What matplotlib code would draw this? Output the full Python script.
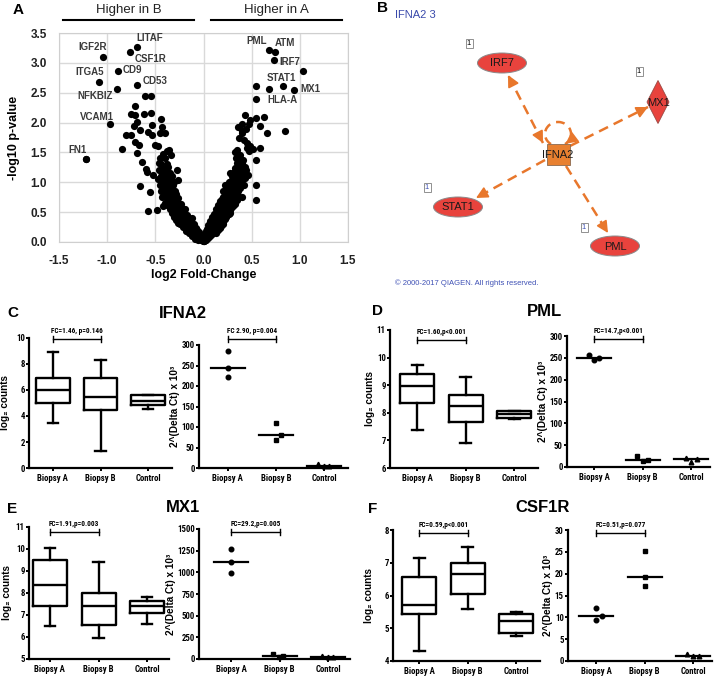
import matplotlib
matplotlib.use('Agg')

import matplotlib.pyplot as plt
from matplotlib import font_manager
from matplotlib.font_manager import FontProperties
from matplotlib.patches import Ellipse, Polygon, Rectangle, Arc
import numpy as np

W, H = 720, 677

plt.rcParams['font.family'] = ['Liberation Sans', 'DejaVu Sans']


def narrow_bold():
    # a condensed bold face for the Prism style panels, if one is installed
    wanted = ['Liberation Sans Narrow', 'Roboto Condensed', 'Open Sans Condensed']
    for name in wanted:
        for f in font_manager.fontManager.ttflist:
            if f.name == name and f.weight in ('bold', 700) and f.style == 'normal':
                return f.fname
    for f in font_manager.fontManager.ttflist:
        if f.name == 'DejaVu Sans' and f.stretch == 'condensed' and f.weight in ('bold', 700):
            return f.fname
    return None


NARROW_FILE = narrow_bold()


def nfont(size):
    if NARROW_FILE:
        return FontProperties(fname=NARROW_FILE, size=size)
    return FontProperties(family='Liberation Sans', weight='bold', size=size * 0.85)


# ---------------- panel A: volcano data (log2 fold change, -log10 p)
# higher in B (negative fold change)
points_b = [
    (-0.01, 0.02), (-0.03, 0.03), (0.0, 0.01), (-0.02, 0.06), (-0.05, 0.05), (-0.04, 0.10),
    (-0.07, 0.08), (-0.06, 0.14), (-0.09, 0.12), (-0.08, 0.18), (-0.11, 0.16), (-0.10, 0.22),
    (-0.13, 0.20), (-0.12, 0.27), (-0.15, 0.25), (-0.17, 0.22), (-0.14, 0.32), (-0.18, 0.30),
    (-0.20, 0.28), (-0.16, 0.37), (-0.19, 0.35), (-0.22, 0.33), (-0.18, 0.42), (-0.21, 0.40),
    (-0.24, 0.38), (-0.20, 0.47), (-0.23, 0.45), (-0.26, 0.43), (-0.22, 0.52), (-0.25, 0.50),
    (-0.28, 0.48), (-0.19, 0.55), (-0.24, 0.57), (-0.27, 0.55), (-0.30, 0.53), (-0.26, 0.62),
    (-0.29, 0.60), (-0.32, 0.58), (-0.23, 0.63), (-0.28, 0.67), (-0.31, 0.65), (-0.34, 0.63),
    (-0.30, 0.72), (-0.33, 0.70), (-0.36, 0.68), (-0.26, 0.74), (-0.32, 0.77), (-0.35, 0.75),
    (-0.38, 0.73), (-0.34, 0.82), (-0.37, 0.80), (-0.40, 0.78), (-0.30, 0.85), (-0.36, 0.87),
    (-0.39, 0.85), (-0.33, 0.90), (-0.38, 0.92), (-0.41, 0.90), (-0.35, 0.96), (-0.40, 0.98),
    (-0.37, 1.02), (-0.42, 1.04), (-0.34, 1.05), (-0.39, 1.08), (-0.36, 1.12), (-0.41, 1.14),
    (-0.38, 1.18), (-0.33, 1.10), (-0.43, 1.00), (-0.35, 1.15), (-0.42, 0.60), (-0.40, 0.65),
    (-0.29, 0.37), (-0.26, 0.32), (-0.31, 0.42), (-0.12, 0.40), (-0.10, 0.30), (-0.07, 0.20),
    (-0.44, 1.10), (-0.46, 1.20), (-0.41, 1.22), (-0.37, 1.25), (-0.44, 0.85), (-0.43, 0.75),
    (-0.38, 0.62), (-0.35, 0.55), (-0.33, 0.48), (-0.30, 0.45), (-0.27, 0.40), (-0.24, 0.30),
    (-0.21, 0.25), (-0.18, 0.18), (-0.15, 0.15), (-0.12, 0.10), (-0.09, 0.05), (-0.06, 0.03),
    (-0.32, 0.95), (-0.29, 0.80), (-0.27, 0.68), (-0.25, 0.60), (-0.22, 0.57), (-0.20, 0.50),
    (-0.17, 0.45), (-0.15, 0.40), (-0.13, 0.35), (-0.11, 0.26), (-0.08, 0.24), (-0.05, 0.17),
    (-0.03, 0.12), (-0.36, 1.00), (-0.39, 1.00), (-0.31, 1.00), (-0.45, 1.40), (-0.42, 1.48),
    (-0.38, 1.52),
    (-1.22, 1.39), (-0.85, 1.55), (-0.80, 1.79), (-0.75, 1.79), (-0.71, 1.68), (-0.67, 1.62),
    (-0.69, 1.49), (-0.64, 1.34), (-0.60, 1.23), (-0.59, 1.18), (-0.53, 1.79), (-0.50, 1.62),
    (-0.45, 1.82), (-0.40, 1.82), (-0.36, 1.54), (-0.34, 1.46), (-0.40, 1.40), (-0.46, 1.32),
    (-0.52, 1.12), (-0.66, 0.94), (-0.56, 0.84), (-0.58, 0.52), (-0.48, 0.54), (-0.28, 1.20),
    (-0.26, 1.04), (-0.47, 1.60), (-0.44, 1.30), (-0.38, 1.30), (-0.43, 1.15), (-0.47, 1.05),
    (-0.45, 0.95), (-0.61, 2.45), (-0.55, 2.45), (-0.71, 2.28), (-0.75, 2.14), (-0.71, 2.12),
    (-0.62, 2.14), (-0.55, 2.16), (-0.69, 2.01), (-0.53, 1.96), (-0.44, 2.06), (-0.43, 1.93),
    (-0.72, 1.94), (-0.66, 1.88), (-0.58, 1.85),
]
# higher in A (positive fold change)
points_a = [
    (0.01, 0.02), (0.03, 0.04), (0.02, 0.08), (0.05, 0.07), (0.04, 0.12), (0.07, 0.10),
    (0.06, 0.16), (0.09, 0.14), (0.03, 0.18), (0.08, 0.21), (0.11, 0.19), (0.06, 0.25),
    (0.10, 0.27), (0.13, 0.24), (0.15, 0.20), (0.08, 0.31), (0.12, 0.33), (0.15, 0.30),
    (0.18, 0.27), (0.10, 0.38), (0.14, 0.39), (0.17, 0.36), (0.20, 0.33), (0.12, 0.44),
    (0.16, 0.45), (0.19, 0.42), (0.22, 0.39), (0.14, 0.50), (0.18, 0.51), (0.21, 0.48),
    (0.24, 0.45), (0.27, 0.48), (0.16, 0.56), (0.20, 0.57), (0.23, 0.54), (0.26, 0.52),
    (0.15, 0.62), (0.19, 0.63), (0.22, 0.60), (0.25, 0.58), (0.29, 0.57), (0.17, 0.68),
    (0.21, 0.69), (0.24, 0.66), (0.28, 0.64), (0.32, 0.66), (0.20, 0.75), (0.23, 0.76),
    (0.27, 0.72), (0.30, 0.70), (0.35, 0.70), (0.22, 0.82), (0.26, 0.83), (0.29, 0.79),
    (0.33, 0.76), (0.24, 0.88), (0.28, 0.90), (0.31, 0.86), (0.35, 0.82), (0.22, 0.95),
    (0.27, 0.96), (0.30, 0.93), (0.34, 0.90), (0.29, 1.02), (0.33, 1.00), (0.37, 0.97),
    (0.31, 1.08), (0.35, 1.06), (0.40, 1.04), (0.28, 1.15), (0.34, 1.13), (0.38, 1.11),
    (0.43, 1.08), (0.36, 1.19), (0.41, 1.17), (0.46, 1.12), (0.33, 1.24), (0.39, 1.26),
    (0.35, 1.32), (0.40, 1.32), (0.43, 1.26), (0.34, 1.40), (0.38, 1.45), (0.33, 1.50),
    (0.25, 0.85), (0.27, 0.78), (0.30, 0.75), (0.32, 0.83), (0.36, 0.86), (0.33, 0.95),
    (0.36, 1.02), (0.39, 1.08), (0.42, 1.14), (0.37, 1.15), (0.32, 1.18), (0.30, 1.10),
    (0.26, 1.00), (0.25, 0.92), (0.20, 0.85), (0.19, 0.72), (0.17, 0.60), (0.13, 0.55),
    (0.11, 0.47), (0.09, 0.42), (0.07, 0.35), (0.05, 0.28), (0.04, 0.22), (0.02, 0.14),
    (0.00, 0.05), (0.13, 0.15), (0.17, 0.23), (0.20, 0.30), (0.23, 0.42), (0.26, 0.47),
    (0.28, 0.53), (0.31, 0.60), (0.33, 0.63), (0.37, 0.75), (0.42, 0.95), (0.44, 1.20),
    (0.41, 1.38), (0.37, 1.36),
    (0.45, 1.57), (0.48, 1.60), (0.51, 1.55), (0.47, 1.53), (0.35, 1.54), (0.59, 1.57),
    (0.55, 1.37), (0.55, 0.95), (0.55, 0.70), (0.40, 0.76), (0.38, 0.90),
    (0.40, 1.82), (0.40, 1.86), (0.43, 2.12), (0.48, 2.05), (0.55, 2.07), (0.63, 2.09),
    (0.59, 1.95), (0.40, 1.98), (0.47, 1.97), (0.36, 1.92), (0.44, 1.90), (0.66, 1.82),
    (0.85, 1.86), (0.55, 2.61), (0.68, 2.56), (1.03, 2.86), (0.42, 1.70), (0.45, 1.65),
    (0.37, 1.75),
]
gene_names = ['IGF2R', 'LITAF', 'CSF1R', 'ITGA5', 'CD9', 'CD53', 'NFKBIZ', 'VCAM1', 'FN1',
              'PML', 'ATM', 'IRF7', 'STAT1', 'MX1', 'HLA-A']
gene_fc = [-1.04, -0.69, -0.76, -1.08, -0.89, -0.69, -0.90, -0.97, -1.22,
           0.68, 0.74, 0.73, 0.83, 0.94, 0.55]
gene_logp = [3.09, 3.26, 3.18, 2.68, 2.87, 2.63, 2.57, 1.97, 1.39,
             3.22, 3.19, 3.04, 2.62, 2.55, 2.39]

# where each gene name sits (data coords, alignment)
label_place = {
    'IGF2R': (-1.00, 3.26, 'right'), 'LITAF': (-0.70, 3.42, 'left'),
    'CSF1R': (-0.71, 3.07, 'left'), 'ITGA5': (-1.03, 2.84, 'right'),
    'CD9': (-0.84, 2.88, 'left'), 'CD53': (-0.63, 2.69, 'left'),
    'NFKBIZ': (-0.94, 2.45, 'right'), 'VCAM1': (-0.93, 2.10, 'right'),
    'FN1': (-1.21, 1.54, 'right'), 'PML': (0.66, 3.37, 'right'),
    'ATM': (0.74, 3.33, 'left'), 'IRF7': (0.79, 3.02, 'left'),
    'STAT1': (0.66, 2.75, 'left'), 'MX1': (1.01, 2.57, 'left'),
    'HLA-A': (0.66, 2.38, 'left'),
}

# ---------------- panels C-F: NanoString counts (box stats) and qPCR values
groups = ['Biopsy A', 'Biopsy B', 'Control']
# (whisker low, q1, median, q3, whisker high)
ifna2_box = [(3.5, 5.0, 6.0, 6.9, 8.9), (1.3, 4.5, 5.5, 6.9, 8.3), (4.55, 4.85, 5.15, 5.6, 5.65)]
pml_box = [(7.39, 8.34, 8.97, 9.40, 9.73), (6.92, 7.65, 8.25, 8.66, 9.3), (7.78, 7.8, 7.95, 8.05, 8.07)]
mx1_box = [(6.48, 7.39, 8.35, 9.5, 10.05), (5.95, 6.55, 7.39, 8.02, 9.4), (6.6, 7.09, 7.39, 7.65, 7.8)]
csf1r_box = [(4.31, 5.43, 5.70, 6.57, 7.16), (5.58, 6.06, 6.65, 6.98, 7.49), (4.76, 4.87, 5.22, 5.45, 5.5)]

ifna2_pcr = [[286, 243, 222], [110, 81, 69], [10, 6, 4]]
pml_pcr = [[257, 246, 250], [25, 14, 15], [21, 11, 19]]
mx1_pcr = [[1273, 1119, 992], [62, 23, 38], [38, 19, 23]]
csf1r_pcr = [[12.2, 9.3, 10.3], [25.2, 19.3, 17.1], [1.7, 1.2, 1.2]]

ifna2_fc = ['FC=1.46, p=0.146', 'FC 2.90, p=0.004']
pml_fc = ['FC=1.60,p<0.001', 'FC=14.7,p<0.001']
mx1_fc = ['FC=1.91,p=0.003', 'FC=29.2,p=0.005']
csf1r_fc = ['FC=0.59,p<0.001', 'FC=0.51,p=0.077']

count_ticks = {'IFNA2': [0, 2, 4, 6, 8, 10], 'PML': [6, 7, 8, 9, 10, 11],
               'MX1': [5, 6, 7, 8, 9, 10, 11], 'CSF1R': [4, 5, 6, 7, 8]}
pcr_ticks = {'IFNA2': [0, 50, 100, 150, 200, 250, 300], 'PML': [0, 50, 100, 150, 200, 250, 300],
             'MX1': [0, 250, 500, 750, 1000, 1250, 1500], 'CSF1R': [0, 5, 10, 15, 20, 25, 30]}

# horizontal spread of the qPCR dots (layout only)
ifna2_jit = [[0, 0, 0], [0, 0.1, 0], [-0.12, 0.1, 0]]
pml_jit = [[-0.1, 0, 0.1], [-0.12, 0, 0.12], [-0.1, 0, 0.12]]
mx1_jit = [[0, 0, 0], [-0.13, -0.02, 0.08], [-0.12, 0, 0.1]]
csf1r_jit = [[0, 0, 0.12], [0, 0, 0], [-0.12, 0, 0.12]]


def rect(x0, y0, x1, y1):
    return [x0 / W, 1 - y1 / H, (x1 - x0) / W, (y1 - y0) / H]


fig = plt.figure(figsize=(W / 100, H / 100), dpi=100)

# ================= A
ax = fig.add_axes(rect(59, 33, 348, 242))
bx, by = zip(*points_b)
px_, py_ = zip(*points_a)
ax.scatter(bx, by, s=27, color='black', lw=0, zorder=3, clip_on=False)
ax.scatter(px_, py_, s=27, color='black', lw=0, zorder=3, clip_on=False)
ax.scatter(gene_fc, gene_logp, s=27, color='black', lw=0, zorder=3)
for name in gene_names:
    x, y, ha = label_place[name]
    ax.text(x, y, name, ha=ha, va='center', fontsize=7, fontweight='bold', color='#3a3a3a')
ax.set_xlim(-1.5, 1.5)
ax.set_ylim(0, 3.5)
xt = np.arange(-1.5, 1.51, 0.5)
yt = np.arange(0, 3.51, 0.5)
ax.set_xticks(xt)
ax.set_yticks(yt)
ax.set_xticklabels(['%.1f' % v for v in xt])
ax.set_yticklabels(['%.1f' % v for v in yt])
ax.grid(True, color='#d9d9d9', lw=1)
ax.set_axisbelow(True)
for s in ax.spines.values():
    s.set_color('#cfcfcf')
ax.tick_params(length=0, labelsize=8.5, colors='#222222')
ax.tick_params(axis='x', pad=9)
ax.tick_params(axis='y', pad=8.5)
for t in ax.get_xticklabels() + ax.get_yticklabels():
    t.set_fontweight('bold')
ax.set_xlabel('log2 Fold-Change', fontsize=9, fontweight='bold', labelpad=2)
ax.set_ylabel('-log10 p-value', fontsize=9, fontweight='bold', labelpad=8)

# headers above A
for x0, x1, txt in [(63, 194, 'Higher in B'), (211, 342, 'Higher in A')]:
    fig.add_artist(plt.Line2D([x0 / W, x1 / W], [1 - 20 / H, 1 - 20 / H], color='black', lw=1.5))
    fig.text((x0 + x1) / 2 / W, 1 - 10 / H, txt, ha='center', va='center', fontsize=9.5,
             color='#222222')

# ================= B : IPA network
axB = fig.add_axes(rect(380, 0, 720, 290))
axB.set_xlim(0, 340)
axB.set_ylim(290, 0)
axB.axis('off')
orange = '#E8772C'
red = '#E8433D'

net_nodes = {'IRF7': (122, 63), 'MX1': (278, 102), 'IFNA2': (178, 154),
             'STAT1': (78, 207), 'PML': (235, 246)}
net_links = [((163, 143), (128, 75), True), ((190, 146), (268, 107), False),
             ((165, 160), (96, 198), False), ((186, 166), (228, 233), False)]
count_boxes = [((89, 43), 'black'), ((259, 71), 'black'), ((47, 187), '#3f51b5'), ((204, 227), '#3f51b5')]


def head(tip, frm):
    tip = np.array(tip, float)
    u = tip - np.array(frm, float)
    u = u / np.hypot(*u)
    axB.annotate('', xy=tip, xytext=tip - 6 * u,
                 arrowprops=dict(arrowstyle='-|>,head_length=0.7,head_width=0.35', color=orange,
                                 lw=1.2, mutation_scale=10, shrinkA=0, shrinkB=0), zorder=4)


for a, b, both in net_links:
    axB.plot([a[0], b[0]], [a[1], b[1]], color=orange, lw=1.8, dashes=(4, 2.5), zorder=2)
    head(b, a)
    if both:
        head(a, b)
# self loop of IFNA2
cx, cy = 178, 134
axB.add_patch(Arc((cx, cy), 26, 24, theta1=125, theta2=415, color=orange, lw=1.8,
                  ls=(0, (3.5, 2.5)), zorder=2))
ang = np.deg2rad(55)
tip = (cx + 13 * np.cos(ang), cy + 12 * np.sin(ang))
head(tip, (tip[0] + 0.8, tip[1] - 0.6))

for name, (x, y) in net_nodes.items():
    if name == 'MX1':
        axB.add_patch(Polygon([(x, y - 21.5), (x + 11, y), (x, y + 21.5), (x - 11, y)],
                              closed=True, fc=red, ec='#9a4a44', lw=0.6, zorder=5))
    elif name == 'IFNA2':
        axB.add_patch(Rectangle((x - 11.5, y - 10.5), 23, 21, fc='#E88030', ec='#8a6a50',
                                lw=0.6, zorder=5))
    else:
        axB.add_patch(Ellipse((x, y), 49, 20, fc=red, ec='#8a8a8a', lw=0.7, zorder=5))
    axB.text(x, y + 0.5, name, ha='center', va='center', fontsize=8, color='#1a1a1a', zorder=6)

for (x, y), c in count_boxes:
    axB.add_patch(Rectangle((x - 3.5, y - 4.5), 7, 9, fc='white', ec='#909090', lw=0.7, zorder=5))
    axB.text(x, y + 0.3, '1', ha='center', va='center', fontsize=5.5, color=c, zorder=6)

axB.text(15, 15, 'IFNA2 3', ha='left', va='center', fontsize=8, color='#3949ab')
axB.text(15, 283, '\u00a9 2000-2017 QIAGEN. All rights reserved.', ha='left', va='center',
         fontsize=5.5, color='#3f51b5')


# ================= C-F
def prism(ax, xlim, yticks):
    ax.set_xlim(*xlim)
    ax.set_ylim(yticks[0], yticks[-1])
    ax.set_yticks(yticks)
    ax.set_xticks([1, 2, 3])
    ax.set_xticklabels(groups)
    for s in ('top', 'right'):
        ax.spines[s].set_visible(False)
    for s in ('left', 'bottom'):
        ax.spines[s].set_linewidth(1.6)
    ax.tick_params(length=2.5, width=1.4, pad=0.6)
    ax.tick_params(axis='x', pad=2)
    for t in ax.get_yticklabels():
        t.set_fontproperties(nfont(6.3))
    for t in ax.get_xticklabels():
        t.set_fontproperties(nfont(6.3))


def bracket(ax, frac, text):
    tr = ax.get_xaxis_transform()
    h = 3.0 / (ax.get_position().height * H)
    ax.plot([1, 2], [frac, frac], color='black', lw=1.0, transform=tr, clip_on=False)
    for x in (1, 2):
        ax.plot([x, x], [frac - h, frac + h], color='black', lw=1.0, transform=tr, clip_on=False)
    ax.text(1.5, frac + 1.3 * h, text, ha='center', va='bottom', fontproperties=nfont(5.2),
            transform=tr)


panels = [
    # name, box, pcr, jitter, fc, letter, letter pos, title pos, left rect, right rect,
    # left xlim, right xlim, bracket fractions, ylabel x of the count plot
    ('IFNA2', ifna2_box, ifna2_pcr, ifna2_jit, ifna2_fc, 'C', (7, 313), (183, 314),
     (29, 338, 172, 468), (199, 345, 348, 468), (0.5, 3.5), (0.4, 3.5), (0.99, 1.05), -0.136),
    ('PML', pml_box, pml_pcr, pml_jit, pml_fc, 'D', (372, 311), (545, 312),
     (390, 330, 538, 468), (567, 336, 710, 467), (0.44, 3.49), (0.44, 3.39), (0.93, 0.98), -0.10),
    ('MX1', mx1_box, mx1_pcr, mx1_jit, mx1_fc, 'E', (7, 509), (183, 507),
     (29, 527, 169, 659), (199, 529, 350, 659), (0.57, 3.45), (0.34, 3.45), (0.96, 0.975), -0.12),
    ('CSF1R', csf1r_box, csf1r_pcr, csf1r_jit, csf1r_fc, 'F', (368, 509), (543, 507),
     (393, 530, 540, 661), (568, 530, 712, 661), (0.46, 3.49), (0.42, 3.39), (0.98, 0.98), -0.126),
]

for (name, box, pcr, jit, fc, letter, lpos, tpos, lrect, rrect, lxl, rxl, brk, ylx) in panels:
    fig.text(lpos[0] / W, 1 - lpos[1] / H, letter, fontsize=11, fontweight='bold',
             ha='left', va='center')
    fig.text(tpos[0] / W, 1 - tpos[1] / H, name, fontsize=12, fontweight='bold',
             ha='center', va='center')

    # box plot of counts
    axl = fig.add_axes(rect(*lrect))
    stats = [dict(whislo=b[0], q1=b[1], med=b[2], q3=b[3], whishi=b[4]) for b in box]
    lp = dict(color='black', lw=1.7)
    axl.bxp(stats, positions=[1, 2, 3], widths=0.7, showfliers=False, capwidths=0.22,
            boxprops=lp, whiskerprops=lp, capprops=lp, medianprops=lp)
    prism(axl, lxl, count_ticks[name])
    axl.set_ylabel('log\u2082 counts', fontsize=7.2, fontweight='bold')
    axl.yaxis.set_label_coords(ylx, 0.5)
    bracket(axl, brk[0], fc[0])

    # qPCR dot plot
    axr = fig.add_axes(rect(*rrect))
    for i, (vals, js) in enumerate(zip(pcr, jit)):
        axr.plot([i + 1 + j for j in js], vals, ls='none', marker='os^'[i], ms=3.3,
                 color='black', clip_on=False, zorder=3)
        m = np.median(vals)
        axr.plot([i + 1 - 0.35, i + 1 + 0.35], [m, m], color='black', lw=1.6, zorder=3)
    prism(axr, rxl, pcr_ticks[name])
    axr.set_ylabel('2^(Delta Ct) x 10\u00b3', fontsize=7.2, fontweight='bold', labelpad=1)
    bracket(axr, brk[1], fc[1])

fig.text(13 / W, 1 - 10 / H, 'A', fontsize=11, fontweight='bold', ha='left', va='center')
fig.text(377 / W, 1 - 8 / H, 'B', fontsize=11, fontweight='bold', ha='left', va='center')

plt.savefig('out.png', dpi=100)
plt.close()
